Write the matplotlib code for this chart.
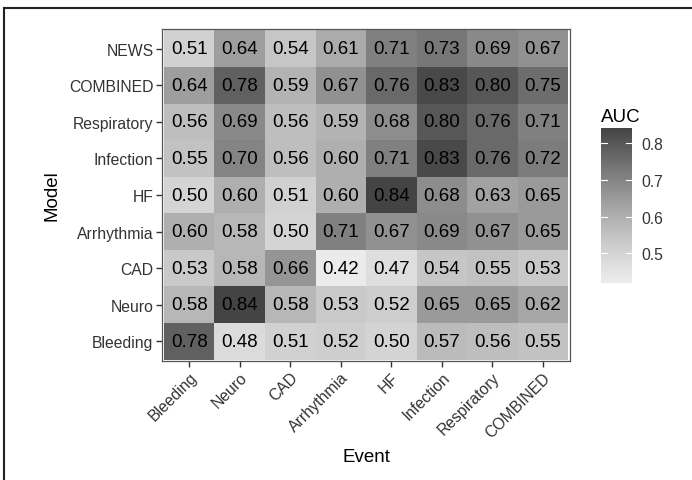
import numpy as np
import matplotlib
matplotlib.use("Agg")
import matplotlib.pyplot as plt
from matplotlib.colors import ListedColormap, Normalize
from matplotlib.lines import Line2D

plt.rcParams["font.family"] = ["Liberation Sans", "DejaVu Sans"]

events = ["Bleeding", "Neuro", "CAD", "Arrhythmia", "HF", "Infection", "Respiratory", "COMBINED"]
models = ["Bleeding", "Neuro", "CAD", "Arrhythmia", "HF", "Infection", "Respiratory", "COMBINED", "NEWS"]

# rows ordered bottom (Bleeding) to top (NEWS)
auc_bleeding = [0.78, 0.48, 0.51, 0.52, 0.50, 0.57, 0.56, 0.55]
auc_neuro = [0.58, 0.84, 0.58, 0.53, 0.52, 0.65, 0.65, 0.62]
auc_cad = [0.53, 0.58, 0.66, 0.42, 0.47, 0.54, 0.55, 0.53]
auc_arrhythmia = [0.60, 0.58, 0.50, 0.71, 0.67, 0.69, 0.67, 0.65]
auc_hf = [0.50, 0.60, 0.51, 0.60, 0.84, 0.68, 0.63, 0.65]
auc_infection = [0.55, 0.70, 0.56, 0.60, 0.71, 0.83, 0.76, 0.72]
auc_respiratory = [0.56, 0.69, 0.56, 0.59, 0.68, 0.80, 0.76, 0.71]
auc_combined = [0.64, 0.78, 0.59, 0.67, 0.76, 0.83, 0.80, 0.75]
auc_news = [0.51, 0.64, 0.54, 0.61, 0.71, 0.73, 0.69, 0.67]

Z = np.array([auc_bleeding, auc_neuro, auc_cad, auc_arrhythmia, auc_hf,
              auc_infection, auc_respiratory, auc_combined, auc_news])

# light-to-dark grey gradient
low, high = 235 / 255, 68 / 255
tt = np.linspace(0, 1, 256)
gs = low - (low - high) * tt ** 1.2
cmap = ListedColormap(np.stack([gs, gs, gs], axis=1))
vmin, vmax = Z.min(), Z.max()
norm = Normalize(vmin=vmin, vmax=vmax)

fig = plt.figure(figsize=(6.92, 4.81), dpi=100)
ax = fig.add_axes([0.234, 0.2474, 0.590, 0.6902])

xe = np.arange(len(events) + 1) - 0.5
ye = np.arange(len(models) + 1) - 0.5
ax.pcolormesh(xe, ye, Z, cmap=cmap, norm=norm, edgecolor="none", antialiased=True)
for i in range(len(models)):
    for j in range(len(events)):
        ax.text(j, i, f"{Z[i, j]:.2f}", ha="center", va="center", fontsize=13.5, color="black")

ax.set_xlim(-0.54, len(events) - 0.46)
ax.set_ylim(-0.54, len(models) - 0.46)
ax.set_xticks(range(len(events)))
ax.set_xticklabels(events, rotation=45, ha="right", rotation_mode="anchor", fontsize=11.3, color="#333333")
ax.set_yticks(range(len(models)))
ax.set_yticklabels(models, fontsize=11.3, color="#333333")
ax.tick_params(length=4, width=1, color="#333333", pad=2)
for s in ax.spines.values():
    s.set_color("#555555")
    s.set_linewidth(0.9)
ax.set_xlabel("Event", fontsize=13.5, labelpad=6)
ax.set_ylabel("Model", fontsize=13.5, labelpad=6)

cax = fig.add_axes([0.8685, 0.4096, 0.0448, 0.322])
sm = plt.cm.ScalarMappable(cmap=cmap, norm=norm)
cb = fig.colorbar(sm, cax=cax)
cb.outline.set_visible(False)
cb.set_ticks([0.5, 0.6, 0.7, 0.8])
cb.ax.tick_params(length=0, labelsize=11.3, labelcolor="#333333", pad=7)
for t in [0.5, 0.6, 0.7, 0.8]:
    cax.plot([0, 0.2], [t, t], color="white", lw=0.8, transform=cax.get_yaxis_transform())
    cax.plot([0.8, 1.0], [t, t], color="white", lw=0.8, transform=cax.get_yaxis_transform())
cax.set_title("AUC", fontsize=13.5, loc="left", pad=5)

# outer frame (top and left edges only visible)
fig.add_artist(Line2D([0.006, 0.006], [0, 0.982], transform=fig.transFigure, color="#222222", lw=1.5))
fig.add_artist(Line2D([0.006, 1.0], [0.982, 0.982], transform=fig.transFigure, color="#222222", lw=1.5))

fig.savefig("out.png", dpi=100)
